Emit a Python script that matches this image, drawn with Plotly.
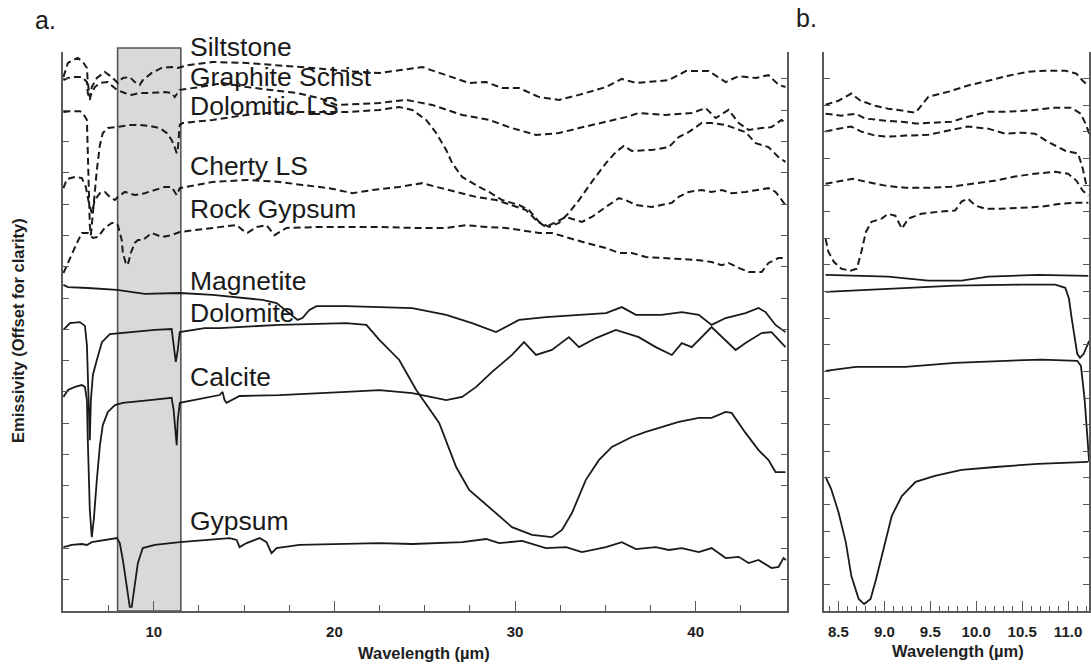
import plotly.graph_objects as go

W, H = 1091, 664
FONT = "Liberation Sans, Arial, sans-serif"
INK = "#1a1a1a"
AXIS = "#5a5a5a"
DASH = "7px,4px"

# ---------------- Panel a (5-45 µm), emissivity offset for clarity (arbitrary units) ----------------
siltstone_x = [5.0, 5.25, 5.52, 5.80, 6.08, 6.30, 6.35, 6.46, 6.57, 6.85, 7.29, 7.68, 8.01, 8.29, 8.67,
               8.95, 9.23, 9.39, 9.89, 10.44, 10.99, 11.33, 11.88, 13.26, 15.14, 17.51, 18.78, 20.66, 22.49,
               24.86, 26.19, 27.46, 28.40, 29.28, 30.22, 31.33, 32.43, 33.54, 35.03, 35.91, 36.69, 38.51,
               39.45, 40.72, 41.66, 42.38, 43.32, 44.03, 44.59, 44.97]
siltstone_y = [17.06, 17.51, 17.60, 17.67, 17.54, 17.35, 16.87, 16.42, 16.74, 17.03, 17.22, 17.06, 16.87,
               17.03, 17.06, 16.90, 16.81, 16.96, 17.19, 17.35, 17.38, 17.35, 17.44, 17.54, 17.51, 17.41,
               17.35, 17.25, 17.19, 17.38, 17.12, 16.87, 16.90, 16.71, 16.71, 16.42, 16.33, 16.49, 16.74,
               17.00, 16.87, 16.96, 17.25, 17.25, 16.90, 17.09, 17.03, 17.12, 16.81, 16.74]

schist_x = [5.0, 5.25, 5.64, 6.02, 6.30, 6.35, 6.46, 6.52, 6.74, 7.02, 7.46, 7.96, 8.40, 8.78, 9.23, 9.78,
            10.61, 10.99, 11.16, 11.33, 11.44, 12.54, 13.81, 15.14, 16.57, 17.90, 19.17, 20.11, 22.49, 23.98,
            25.41, 27.07, 28.56, 29.83, 31.16, 32.43, 33.54, 35.03, 36.13, 36.85, 38.34, 39.78, 40.55, 41.11,
            41.82, 42.38, 42.93, 43.65, 44.20, 44.75, 44.97]
schist_y = [16.96, 17.03, 17.06, 17.06, 16.90, 16.55, 16.33, 16.49, 16.74, 16.87, 16.90, 16.65, 16.55,
            16.49, 16.55, 16.55, 16.58, 16.55, 16.42, 16.55, 16.65, 16.74, 16.87, 16.74, 16.65, 16.55,
            16.39, 16.17, 16.23, 16.33, 16.17, 15.85, 15.69, 15.43, 15.21, 15.27, 15.43, 15.62, 15.78,
            15.91, 15.85, 15.91, 16.07, 15.75, 16.01, 15.59, 15.37, 15.43, 15.46, 15.69, 15.59]

dolls_x = [5.0, 5.36, 5.91, 6.08, 6.30, 6.35, 6.41, 6.46, 6.52, 6.57, 6.68, 6.85, 7.02, 7.18, 7.46, 7.96,
           8.67, 9.23, 9.78, 10.33, 10.72, 10.99, 11.16, 11.27, 11.33, 11.44, 11.60, 13.26, 15.14, 16.24,
           17.51, 20.66, 22.49, 23.59, 24.31, 25.08, 25.64, 26.19, 26.52, 27.07, 28.01, 28.56, 29.28, 30.22,
           30.77, 31.33, 31.88, 32.43, 32.98, 33.54, 34.25, 35.03, 35.58, 36.02, 36.46, 37.57, 38.51, 39.06,
           39.61, 40.33, 40.88, 41.66, 41.99, 42.76, 43.32, 44.03, 44.59, 44.97]
dolls_y = [15.94, 15.97, 15.97, 15.91, 15.69, 14.73, 13.45, 12.33, 12.01, 12.33, 13.13, 14.09, 14.89,
           15.27, 15.43, 15.46, 15.53, 15.53, 15.50, 15.43, 15.27, 15.05, 14.82, 14.63, 14.73, 15.53,
           15.59, 15.69, 15.85, 15.91, 15.94, 15.94, 16.01, 16.10, 16.01, 15.69, 15.27, 14.73, 14.31,
           13.87, 13.55, 13.39, 13.13, 12.97, 12.81, 12.43, 12.27, 12.40, 12.72, 13.13, 13.71, 14.31,
           14.66, 14.86, 14.70, 14.73, 14.82, 15.14, 15.30, 15.59, 15.59, 15.53, 15.46, 15.30, 14.95,
           14.82, 14.50, 14.35]

cherty_x = [5.0, 5.19, 5.64, 6.02, 6.24, 6.41, 6.57, 6.74, 7.02, 7.29, 7.57, 7.85, 8.01, 8.40, 8.95, 9.50,
            10.06, 10.61, 10.99, 11.16, 11.27, 11.44, 13.26, 15.14, 16.96, 18.23, 19.72, 21.00, 22.10, 23.59,
            24.86, 25.64, 26.74, 27.85, 28.95, 29.83, 30.61, 31.16, 31.71, 32.27, 32.82, 33.70, 34.25, 35.03,
            35.75, 36.13, 36.69, 37.57, 38.68, 39.06, 39.61, 40.33, 40.88, 41.44, 41.99, 42.76, 43.48, 44.03,
            44.42, 44.75, 44.97]
cherty_y = [13.51, 13.80, 13.87, 13.83, 13.55, 13.04, 12.72, 13.13, 13.35, 13.39, 13.23, 13.13, 13.23,
            13.39, 13.29, 13.35, 13.45, 13.55, 13.55, 13.39, 13.29, 13.51, 13.71, 13.77, 13.71, 13.61,
            13.51, 13.35, 13.45, 13.55, 13.67, 13.55, 13.39, 13.23, 13.13, 12.97, 12.81, 12.49, 12.27,
            12.43, 12.59, 12.43, 12.59, 12.91, 13.19, 13.13, 12.97, 12.91, 13.04, 13.23, 13.39, 13.45,
            13.39, 13.45, 13.35, 13.39, 13.45, 13.51, 13.39, 13.13, 12.97]

rockgyp_x = [5.0, 5.19, 5.47, 5.75, 6.02, 6.35, 6.63, 6.91, 7.29, 7.68, 7.85, 8.01, 8.23, 8.29, 8.45, 8.56,
             8.73, 8.95, 9.12, 9.39, 9.89, 10.44, 10.99, 11.44, 13.26, 14.59, 14.92, 15.19, 15.69, 16.24,
             16.69, 17.35, 19.17, 21.00, 22.49, 24.31, 26.19, 27.29, 28.40, 29.50, 30.39, 31.33, 32.04,
             32.82, 33.92, 35.03, 35.75, 36.46, 37.24, 38.12, 39.06, 40.17, 40.88, 41.44, 41.82, 42.38,
             42.93, 43.65, 44.03, 44.59, 44.97]
rockgyp_y = [10.80, 11.05, 11.37, 11.76, 12.08, 12.08, 11.92, 11.95, 12.24, 12.40, 12.40, 12.33, 11.85,
             11.44, 11.12, 11.05, 11.44, 11.76, 11.85, 11.85, 12.08, 11.95, 12.01, 12.11, 12.24, 12.33,
             12.17, 12.08, 12.27, 12.33, 12.01, 12.24, 12.27, 12.27, 12.27, 12.24, 12.24, 12.33, 12.27,
             12.24, 12.17, 12.08, 12.08, 11.95, 11.76, 11.60, 11.44, 11.44, 11.31, 11.28, 11.25, 11.21,
             11.15, 11.05, 11.12, 10.96, 10.83, 10.83, 11.12, 11.28, 11.28]

magnetite_x = [5.0, 5.25, 6.35, 7.96, 9.50, 10.61, 11.44, 13.26, 15.14, 16.02, 16.80, 17.51, 17.96, 18.23,
               18.62, 19.01, 20.66, 22.49, 24.31, 26.19, 27.62, 28.95, 30.22, 31.71, 33.54, 35.03, 35.91,
               36.69, 38.12, 39.23, 40.17, 40.88, 41.66, 42.76, 43.48, 43.87, 44.42, 44.97]
magnetite_y = [10.42, 10.35, 10.32, 10.26, 10.13, 10.16, 10.16, 10.10, 10.00, 9.94, 9.84, 9.52, 9.30, 9.36,
               9.62, 9.74, 9.74, 9.71, 9.68, 9.46, 9.20, 8.91, 9.30, 9.39, 9.46, 9.52, 9.71, 9.46, 9.46,
               9.55, 9.46, 9.14, 9.36, 9.52, 9.68, 9.55, 9.14, 8.91]

dolomite_x = [5.0, 5.36, 5.91, 6.19, 6.30, 6.35, 6.41, 6.46, 6.52, 6.63, 6.85, 7.13, 7.57, 8.67, 10.06,
              10.99, 11.10, 11.22, 11.33, 11.44, 12.82, 13.65, 16.96, 20.66, 21.77, 22.49, 23.59, 24.53,
              25.80, 26.74, 27.46, 28.56, 29.83, 30.94, 32.04, 32.60, 33.15, 33.92, 34.64, 35.36, 36.46,
              37.24, 38.12, 39.06, 40.17, 40.88, 41.66, 41.99, 42.76, 43.48, 44.03, 44.42, 44.97]
dolomite_y = [8.98, 9.20, 9.23, 9.11, 8.50, 7.38, 6.10, 5.46, 6.74, 7.54, 8.02, 8.59, 8.85, 8.91, 8.98,
              9.01, 8.56, 7.96, 8.34, 8.91, 9.04, 9.04, 9.14, 9.20, 9.14, 8.66, 8.02, 7.06, 6.01, 4.60,
              3.87, 3.32, 2.68, 2.43, 2.36, 2.59, 3.13, 4.19, 4.82, 5.24, 5.56, 5.72, 5.88, 6.04, 6.17,
              6.17, 6.36, 6.33, 5.69, 5.14, 4.82, 4.44, 4.44]

calcite_x = [5.0, 5.25, 5.64, 6.02, 6.19, 6.30, 6.35, 6.41, 6.46, 6.57, 6.68, 6.85, 7.02, 7.18, 7.46, 7.85,
             8.29, 9.78, 10.99, 11.10, 11.22, 11.27, 11.33, 11.44, 13.65, 13.81, 13.92, 14.03, 14.75, 16.96,
             20.66, 22.49, 24.31, 25.25, 26.19, 27.07, 27.85, 28.73, 29.83, 30.50, 31.16, 32.04, 32.98,
             33.54, 34.48, 35.58, 36.85, 37.79, 38.68, 39.23, 39.78, 40.88, 41.44, 42.21, 42.76, 43.65,
             44.20, 44.97]
calcite_y = [6.84, 7.06, 7.16, 7.22, 7.16, 6.74, 5.46, 4.19, 3.23, 2.36, 2.91, 4.19, 5.30, 5.94, 6.36, 6.58,
             6.65, 6.74, 6.81, 6.42, 5.46, 5.30, 6.10, 6.65, 6.90, 7.00, 6.74, 6.65, 6.87, 6.90, 7.00, 7.06,
             6.96, 6.84, 6.74, 6.84, 7.16, 7.64, 8.18, 8.59, 8.18, 8.34, 8.75, 8.43, 8.72, 8.98, 8.75, 8.43,
             8.18, 8.56, 8.43, 9.07, 8.75, 8.34, 8.56, 8.88, 8.91, 8.43]

gypsum_x = [5.0, 5.47, 6.02, 6.30, 6.57, 7.29, 7.96, 8.12, 8.29, 8.51, 8.67, 8.78, 8.95, 9.12, 9.39, 10.06,
            11.44, 14.20, 14.59, 14.75, 15.14, 15.86, 16.24, 16.52, 16.80, 18.07, 22.49, 24.31, 27.07, 28.40,
            29.12, 30.39, 31.71, 32.82, 33.70, 35.03, 35.91, 36.69, 37.79, 38.51, 39.23, 40.17, 40.88, 41.66,
            42.38, 42.93, 43.48, 44.20, 44.59, 44.86, 45.0]
gypsum_y = [2.04, 2.11, 2.14, 2.11, 2.20, 2.27, 2.33, 2.17, 1.63, 0.77, 0.13, 0.13, 0.77, 1.53, 2.01, 2.11,
            2.20, 2.33, 2.27, 2.04, 2.17, 2.33, 2.20, 1.85, 2.01, 2.11, 2.17, 2.14, 2.20, 2.30, 2.17, 2.24,
            2.01, 2.04, 1.88, 2.04, 2.20, 1.98, 2.04, 1.95, 2.01, 1.88, 2.01, 1.69, 1.73, 1.53, 1.63, 1.37,
            1.41, 1.69, 1.63]

# ---------------- Panel b (8.35-11.23 µm) ----------------
b_siltstone_x = [8.36, 8.50, 8.64, 8.74, 8.90, 9.04, 9.19, 9.34, 9.40, 9.48, 9.70, 9.91, 10.13, 10.35, 10.57,
                 10.78, 10.97, 11.09, 11.16, 11.22]
b_siltstone_y = [19.02, 19.17, 19.44, 19.17, 18.98, 18.87, 18.80, 18.72, 18.98, 19.32, 19.51, 19.74, 19.92,
                 20.11, 20.26, 20.30, 20.30, 20.19, 19.92, 19.74]
b_schist_x = [8.36, 8.53, 8.69, 8.79, 9.01, 9.19, 9.34, 9.51, 9.73, 9.91, 10.13, 10.35, 10.57, 10.86, 11.03,
              11.14, 11.20, 11.23]
b_schist_y = [18.68, 18.61, 18.68, 18.50, 18.42, 18.38, 18.31, 18.35, 18.38, 18.57, 18.76, 18.76, 18.80,
              18.91, 18.91, 18.68, 18.23, 17.93]
b_dolls_x = [8.36, 8.50, 8.64, 8.75, 8.90, 9.04, 9.23, 9.48, 9.70, 9.91, 10.13, 10.32, 10.49, 10.64, 10.78,
             10.97, 11.11, 11.16, 11.20]
b_dolls_y = [18.01, 18.12, 18.20, 18.01, 17.86, 17.82, 17.86, 17.89, 18.05, 18.20, 18.12, 17.93, 17.97,
             17.93, 17.63, 17.29, 17.18, 16.62, 15.98]
b_cherty_x = [8.36, 8.50, 8.66, 8.79, 9.01, 9.23, 9.48, 9.73, 9.95, 10.21, 10.42, 10.64, 10.86, 11.00, 11.09,
              11.16, 11.22]
b_cherty_y = [16.05, 16.13, 16.24, 16.13, 15.98, 15.90, 15.90, 15.94, 16.05, 16.17, 16.32, 16.43, 16.50,
              16.43, 16.17, 15.79, 15.60]
b_rockgyp_x = [8.36, 8.39, 8.45, 8.53, 8.63, 8.70, 8.75, 8.80, 8.86, 8.97, 9.04, 9.12, 9.19, 9.26, 9.40, 9.59,
               9.77, 9.84, 9.91, 9.99, 10.10, 10.27, 10.49, 10.71, 10.92, 11.08, 11.22]
b_rockgyp_y = [13.98, 13.50, 13.12, 12.86, 12.78, 12.86, 13.50, 14.25, 14.62, 14.74, 14.92, 14.85, 14.36,
               14.74, 14.92, 15.00, 15.04, 15.38, 15.49, 15.23, 15.11, 15.11, 15.15, 15.19, 15.30, 15.34, 15.34]
b_magnetite_x = [8.36, 9.04, 9.48, 9.84, 10.13, 10.67, 11.22]
b_magnetite_y = [12.63, 12.56, 12.41, 12.41, 12.56, 12.63, 12.59]
b_dolomite_x = [8.36, 9.04, 9.77, 10.49, 10.86, 10.97, 11.01, 11.04, 11.07, 11.10, 11.13, 11.17, 11.23]
b_dolomite_y = [11.99, 12.11, 12.22, 12.26, 12.26, 12.14, 11.73, 10.98, 10.23, 9.66, 9.51, 9.66, 10.15]
b_calcite_x = [8.36, 8.69, 9.23, 9.77, 10.32, 10.71, 11.10, 11.14, 11.18, 11.21, 11.23]
b_calcite_y = [9.02, 9.17, 9.17, 9.32, 9.40, 9.44, 9.40, 9.21, 7.97, 6.47, 5.60]
b_gypsum_x = [8.36, 8.42, 8.50, 8.58, 8.64, 8.72, 8.78, 8.85, 8.91, 9.01, 9.08, 9.19, 9.34, 9.55, 9.84,
              10.21, 10.67, 11.22]
b_gypsum_y = [5.04, 4.59, 3.72, 2.59, 1.32, 0.45, 0.26, 0.45, 1.20, 2.59, 3.57, 4.32, 4.85, 5.08, 5.30,
              5.41, 5.53, 5.60]

labels = ["Siltstone", "Graphite Schist", "Dolomitic LS", "Cherty LS", "Rock Gypsum",
          "Magnetite", "Dolomite", "Calcite", "Gypsum"]
label_row_px = [47, 77, 106, 166, 209, 281, 313, 377, 521]

panel_a = [(siltstone_x, siltstone_y, True), (schist_x, schist_y, True), (dolls_x, dolls_y, True),
           (cherty_x, cherty_y, True), (rockgyp_x, rockgyp_y, True), (magnetite_x, magnetite_y, False),
           (dolomite_x, dolomite_y, False), (calcite_x, calcite_y, False), (gypsum_x, gypsum_y, False)]
panel_b = [(b_siltstone_x, b_siltstone_y, True), (b_schist_x, b_schist_y, True), (b_dolls_x, b_dolls_y, True),
           (b_cherty_x, b_cherty_y, True), (b_rockgyp_x, b_rockgyp_y, True),
           (b_magnetite_x, b_magnetite_y, False), (b_dolomite_x, b_dolomite_y, False),
           (b_calcite_x, b_calcite_y, False), (b_gypsum_x, b_gypsum_y, False)]


def px_x(p):
    return p / W


def px_y(p):
    return 1 - p / H


def line_style(dashed):
    if dashed:
        return dict(color=INK, width=2.0, dash=DASH)
    return dict(color=INK, width=1.8, dash="solid")


fig = go.Figure()
for (xs, ys, dashed), name in zip(panel_a, labels):
    fig.add_trace(go.Scatter(x=xs, y=ys, mode="lines", name=name, xaxis="x", yaxis="y",
                             line=line_style(dashed), hoverinfo="skip"))
for (xs, ys, dashed), name in zip(panel_b, labels):
    fig.add_trace(go.Scatter(x=xs, y=ys, mode="lines", name=name, xaxis="x2", yaxis="y2",
                             line=line_style(dashed), hoverinfo="skip"))

tickfont = dict(family=FONT, size=15, color="#1e1e1e", weight="bold")
common_x = dict(showline=True, linecolor=AXIS, linewidth=1.6, ticks="inside", tickcolor=AXIS, tickwidth=1.3,
                showgrid=False, zeroline=False, tickfont=tickfont, ticklabelstandoff=6, mirror=False)
common_y = dict(showline=True, linecolor=AXIS, linewidth=1.6, ticks="inside", tickcolor=AXIS, tickwidth=1.3,
                ticklen=6, showgrid=False, zeroline=False, showticklabels=False, mirror="ticks",
                tick0=0, dtick=1, domain=[px_y(611), px_y(52)])

fig.update_layout(
    width=W, height=H, margin=dict(l=0, r=0, t=0, b=0),
    paper_bgcolor="white", plot_bgcolor="white", showlegend=False,
    xaxis=dict(domain=[px_x(63), px_x(788)], range=[4.97, 45.03], anchor="y", tick0=0, dtick=10, ticklen=10,
               minor=dict(ticks="inside", dtick=2.5, ticklen=6, tickcolor=AXIS, tickwidth=1.3), **common_x),
    yaxis=dict(range=[0, 17.86], anchor="x", **common_y),
    xaxis2=dict(domain=[px_x(826), 1.0], range=[8.348, 11.228], anchor="y2", tick0=0, dtick=0.5,
                tickformat=".1f", ticklen=10,
                minor=dict(ticks="inside", dtick=0.1, ticklen=5, tickcolor=AXIS, tickwidth=1.2), **common_x),
    yaxis2=dict(range=[0, 21.0], anchor="x2", **common_y),
)

# shaded 8-11.5 µm window in panel a
fig.add_shape(type="rect", xref="x", yref="paper", x0=8.0, x1=11.5, y0=px_y(611), y1=px_y(48),
              fillcolor="#d9d9d9", line=dict(color="#555555", width=1.6), layer="below")

ann = []
for text, row in zip(labels, label_row_px):
    ann.append(dict(text=text, xref="paper", yref="paper", x=px_x(189), y=px_y(row), xanchor="left",
                    yanchor="middle", showarrow=False, borderpad=0,
                    font=dict(family=FONT, size=26.5, color="#1a1a1a")))
ann.append(dict(text="a.", xref="paper", yref="paper", x=px_x(33), y=px_y(20), xanchor="left",
                yanchor="middle", showarrow=False, font=dict(family=FONT, size=25, color="#1a1a1a")))
ann.append(dict(text="b.", xref="paper", yref="paper", x=px_x(795), y=px_y(18), xanchor="left",
                yanchor="middle", showarrow=False, font=dict(family=FONT, size=25, color="#1a1a1a")))
ann.append(dict(text="Emissivity (Offset for clarity)", xref="paper", yref="paper", x=px_x(18), y=px_y(330),
                textangle=-90, xanchor="center", yanchor="middle", showarrow=False,
                font=dict(family=FONT, size=16.5, color="#1e1e1e", weight="bold")))
ann.append(dict(text="Wavelength (µm)", xref="paper", yref="paper", x=px_x(425), y=px_y(653),
                xanchor="center", yanchor="middle", showarrow=False,
                font=dict(family=FONT, size=16.5, color="#1e1e1e", weight="bold")))
ann.append(dict(text="Wavelength (µm)", xref="paper", yref="paper", x=px_x(960), y=px_y(651),
                xanchor="center", yanchor="middle", showarrow=False,
                font=dict(family=FONT, size=16.5, color="#1e1e1e", weight="bold")))
fig.update_layout(annotations=ann)

fig.write_html("out.html")
